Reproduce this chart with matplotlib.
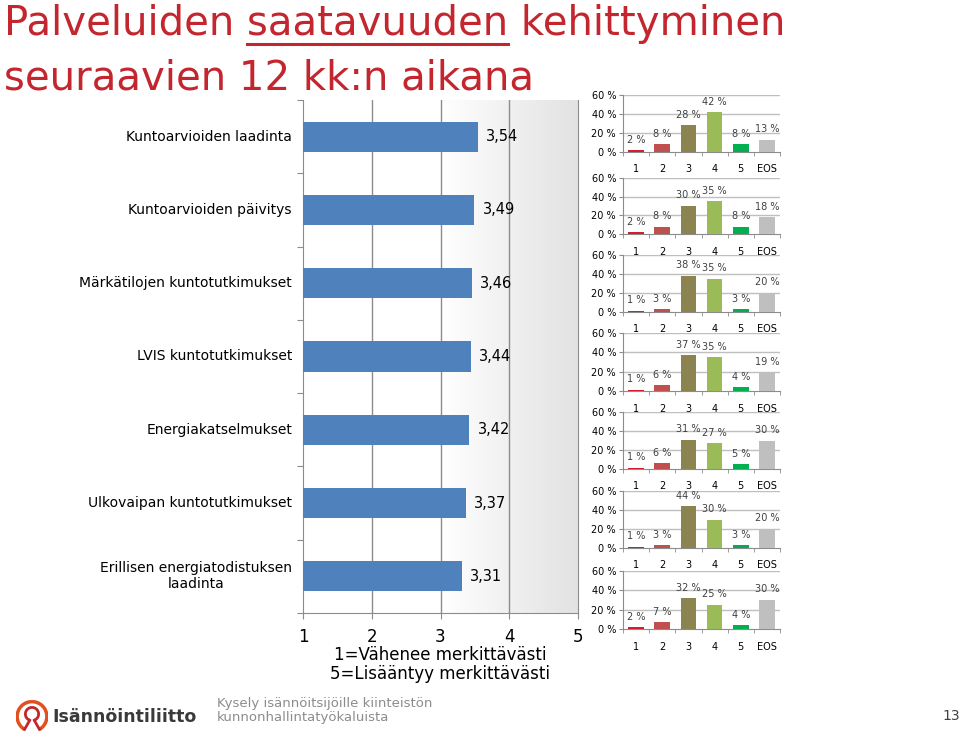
import numpy as np
import matplotlib
matplotlib.use('Agg')
import matplotlib.pyplot as plt
from matplotlib.patches import Arc

# Data
categories = ['Kuntoarvioiden laadinta', 'Kuntoarvioiden päivitys',
              'Märkätilojen kuntotutkimukset', 'LVIS kuntotutkimukset',
              'Energiakatselmukset', 'Ulkovaipan kuntotutkimukset',
              'Erillisen energiatodistuksen\nlaadinta']
means = [3.54, 3.49, 3.46, 3.44, 3.42, 3.37, 3.31]
mean_labels = ['3,54', '3,49', '3,46', '3,44', '3,42', '3,37', '3,31']

dist_labels = ['1', '2', '3', '4', '5', 'EOS']
dist_1 = [2, 8, 28, 42, 8, 13]
dist_2 = [2, 8, 30, 35, 8, 18]
dist_3 = [1, 3, 38, 35, 3, 20]
dist_4 = [1, 6, 37, 35, 4, 19]
dist_5 = [1, 6, 31, 27, 5, 30]
dist_6 = [1, 3, 44, 30, 3, 20]
dist_7 = [2, 7, 32, 25, 4, 30]
dists = [dist_1, dist_2, dist_3, dist_4, dist_5, dist_6, dist_7]

W, H = 960, 735
fig = plt.figure(figsize=(W / 100, H / 100), dpi=100)
fig.patch.set_facecolor('white')

RED = '#c3262e'
BLUE = '#4f81bd'
dist_colors = ['#d0202e', '#c0504d', '#8c8450', '#9bbb59', '#00b050', '#bfbfbf']


def px(x0, y0, x1, y1):
    # pixel box (top-left origin) -> figure fraction rect
    return [x0 / W, 1 - y1 / H, (x1 - x0) / W, (y1 - y0) / H]


# ## Title with underlined word ## #
title_fs = 29
ty1 = 1 - 24 / H
tx = 4 / W
fig.text(tx, ty1, 'Palveluiden saatavuuden kehittyminen', fontsize=title_fs,
         color=RED, va='center', ha='left')
fig.text(tx, 1 - 79 / H, 'seuraavien 12 kk:n aikana', fontsize=title_fs,
         color=RED, va='center', ha='left')
renderer = fig.canvas.get_renderer()
tmp1 = fig.text(tx, ty1, 'Palveluiden saatavuuden', fontsize=title_fs)
tmp2 = fig.text(tx, ty1, 'saatavuuden', fontsize=title_fs)
w1 = tmp1.get_window_extent(renderer).width
w2 = tmp2.get_window_extent(renderer).width
tmp1.remove()
tmp2.remove()
ux0 = 4 + (w1 - w2)
ux1 = 4 + w1
uy = 1 - 44 / H
fig.add_artist(plt.Line2D([ux0 / W, ux1 / W], [uy, uy], color=RED, lw=2.2,
                          transform=fig.transFigure))

# ## Main bar chart of mean values ## #
ax = fig.add_axes(px(303, 100, 578, 613))
n = len(categories)
ypos = np.arange(n)
grad = np.linspace(0, 1, 256).reshape(1, -1)
ax.imshow(grad, extent=[1, 5, -0.5, n - 0.5], aspect='auto', zorder=0,
          cmap=matplotlib.colors.LinearSegmentedColormap.from_list(
              'g', ['#ffffff', '#ffffff', '#e2e2e2']))
ax.barh(ypos, [m - 1 for m in means], left=1, height=0.41, color=BLUE,
        zorder=3)
for y, m, lab in zip(ypos, means, mean_labels):
    ax.text(m + 0.12, y, lab, va='center', ha='left', fontsize=10.5,
            color='black', zorder=4)
ax.set_xlim(1, 5)
ax.set_ylim(n - 0.5, -0.5)
ax.set_xticks([1, 2, 3, 4, 5])
ax.set_xticklabels(['1', '2', '3', '4', '5'], fontsize=12)
for xv in [2, 3, 4]:
    ax.axvline(xv, color='#8c8c8c', lw=1, zorder=1)
ax.set_yticks(np.arange(-0.5, n, 1.0))
ax.set_yticklabels([])
ax.tick_params(axis='y', direction='out', length=4, color='#8c8c8c')
ax.tick_params(axis='x', direction='out', length=4, color='#8c8c8c',
               pad=7)
for s in ['left', 'bottom', 'right']:
    ax.spines[s].set_color('#8c8c8c')
ax.spines['top'].set_visible(False)
for y, cat in zip(ypos, categories):
    ax.text(-0.04, y, cat, transform=ax.get_yaxis_transform(), ha='right',
            va='center', fontsize=10, multialignment='center')
ax.set_xlabel('1=Vähenee merkittävästi\n5=Lisääntyy merkittävästi',
              fontsize=12, labelpad=0, linespacing=1.05)

# ## Small distribution charts ## #
tops = [95, 178, 255, 333, 412, 491, 571]
bottoms = [152, 234, 312, 391, 469, 548, 629]
for vals, t, b in zip(dists, tops, bottoms):
    sa = fig.add_axes(px(623, t, 780, b))
    xs = np.arange(len(vals))
    sa.bar(xs, vals, width=0.6, color=dist_colors, zorder=3)
    for x, v in zip(xs, vals):
        sa.annotate('%d %%' % v, (x, v), xytext=(0, 4),
                    textcoords='offset points', ha='center', va='bottom',
                    fontsize=7, color='#404040', zorder=4)
    sa.set_ylim(0, 60)
    sa.set_xlim(-0.5, 5.5)
    sa.set_yticks([0, 20, 40, 60])
    sa.set_yticklabels(['0 %', '20 %', '40 %', '60 %'], fontsize=7)
    for yv in [20, 40, 60]:
        sa.axhline(yv, color='#bfbfbf', lw=1, zorder=1)
    sa.set_xticks(xs)
    sa.set_xticklabels(dist_labels, fontsize=7)
    sa.set_xticks(np.arange(-0.5, 6, 1.0), minor=True)
    sa.tick_params(axis='x', which='major', length=0, pad=9)
    sa.tick_params(axis='x', which='minor', length=3, color='#8c8c8c')
    sa.tick_params(axis='y', length=3, color='#8c8c8c', pad=2)
    for s in ['top', 'right']:
        sa.spines[s].set_visible(False)
    for s in ['left', 'bottom']:
        sa.spines[s].set_color('#8c8c8c')
    sa.set_facecolor('none')

# ## Footer ## #
logo_ax = fig.add_axes(px(14, 700, 50, 733))
logo_ax.set_xlim(-1, 1)
logo_ax.set_ylim(-1, 1)
logo_ax.set_aspect('equal')
logo_ax.axis('off')
logo_ax.add_patch(Arc((0, 0), 1.8, 1.8, theta1=-60, theta2=240,
                      color='#e2501f', lw=2.5))
logo_ax.add_patch(Arc((0, 0.15), 0.8, 0.8, theta1=-70, theta2=250,
                      color='#c0282d', lw=2.0))
logo_ax.plot([-0.14, -0.45], [-0.23, -0.78], color='#c0282d', lw=2.0)
logo_ax.plot([0.14, 0.45], [-0.23, -0.78], color='#c0282d', lw=2.0)
fig.text(52 / W, 1 - 717 / H, 'Isännöintiliitto', fontsize=12.5,
         color='#3a3a3a', va='center', ha='left', fontweight='bold')
fig.text(217 / W, 1 - 711 / H,
         'Kysely isännöitsijöille kiinteistön\nkunnonhallintatyökaluista',
         fontsize=9.5, color='#8c8c8c', va='center', ha='left',
         linespacing=1.1)
fig.text(951 / W, 1 - 716 / H, '13', fontsize=10, color='#404040',
         va='center', ha='center')

fig.savefig('out.png', dpi=100)
